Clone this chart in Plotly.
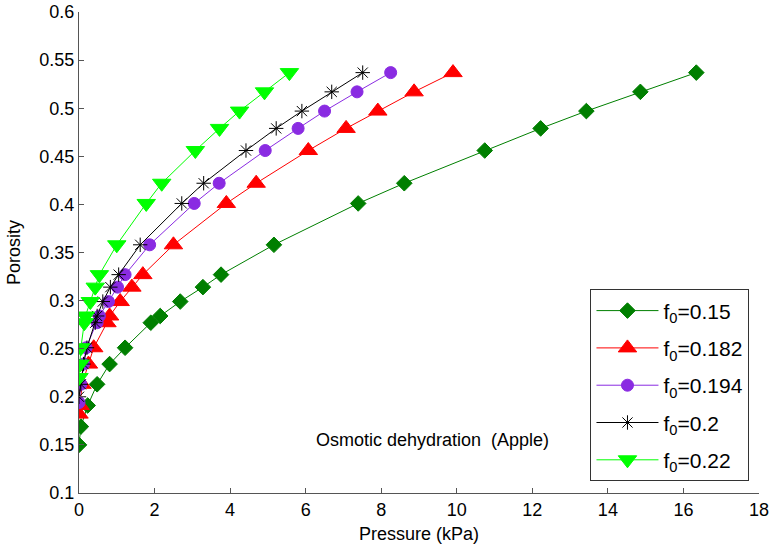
import plotly.graph_objects as go

# f0 = 0.15
p_015 = [0.0, 0.05, 0.23, 0.48, 0.81, 1.22, 1.90, 2.15, 2.68, 3.28, 3.76, 5.16, 7.39, 8.61, 10.74, 12.22, 13.43, 14.86, 16.34]
phi_015 = [0.150, 0.169, 0.191, 0.213, 0.234, 0.251, 0.277, 0.284, 0.299, 0.314, 0.327, 0.358, 0.401, 0.422, 0.456, 0.479, 0.497, 0.517, 0.537]
# f0 = 0.182
p_0182 = [0.0, 0.03, 0.08, 0.25, 0.39, 0.74, 0.81, 1.09, 1.40, 1.69, 2.50, 3.90, 4.69, 6.07, 7.07, 7.91, 8.87, 9.90]
phi_0182 = [0.182, 0.191, 0.213, 0.234, 0.251, 0.277, 0.284, 0.299, 0.314, 0.327, 0.358, 0.401, 0.422, 0.456, 0.479, 0.497, 0.517, 0.537]
# f0 = 0.194
p_0194 = [0.0, 0.05, 0.12, 0.19, 0.48, 0.54, 0.78, 1.02, 1.22, 1.87, 3.05, 3.71, 4.93, 5.80, 6.50, 7.36, 8.25]
phi_0194 = [0.194, 0.213, 0.234, 0.251, 0.277, 0.284, 0.299, 0.314, 0.327, 0.358, 0.401, 0.422, 0.456, 0.479, 0.497, 0.517, 0.537]
# f0 = 0.2
p_02 = [0.0, 0.05, 0.12, 0.21, 0.43, 0.48, 0.63, 0.83, 1.05, 1.62, 2.72, 3.30, 4.42, 5.22, 5.90, 6.69, 7.51]
phi_02 = [0.200, 0.213, 0.234, 0.251, 0.277, 0.284, 0.299, 0.314, 0.327, 0.358, 0.401, 0.422, 0.456, 0.479, 0.497, 0.517, 0.537]
# f0 = 0.22
p_022 = [0.0, 0.03, 0.05, 0.14, 0.17, 0.30, 0.43, 0.54, 1.00, 1.78, 2.19, 3.08, 3.72, 4.25, 4.91, 5.57]
phi_022 = [0.220, 0.234, 0.251, 0.277, 0.284, 0.299, 0.314, 0.327, 0.358, 0.401, 0.422, 0.456, 0.479, 0.497, 0.517, 0.537]

x_ticks = [0, 2, 4, 6, 8, 10, 12, 14, 16, 18]
y_ticks = [0.1, 0.15, 0.2, 0.25, 0.3, 0.35, 0.4, 0.45, 0.5, 0.55, 0.6]

FONT = "Liberation Sans, Arial, sans-serif"

series = [
    ("f<sub>0</sub>=0.15", p_015, phi_015, "#007f00", "diamond", 12),
    ("f<sub>0</sub>=0.182", p_0182, phi_0182, "#ff0000", "triangle-up", 16),
    ("f<sub>0</sub>=0.194", p_0194, phi_0194, "#8a2be2", "circle", 12),
    ("f<sub>0</sub>=0.2", p_02, phi_02, "#000000", "asterisk-open", 12),
    ("f<sub>0</sub>=0.22", p_022, phi_022, "#00ff00", "triangle-down", 16),
]

fig = go.Figure()
for i, (name, x, y, c, sym, sz) in enumerate(series):
    fig.add_trace(go.Scatter(
        x=x, y=y, name=name, mode="lines+markers", legendgroup=f"g{i}",
        line=dict(color=c, width=1),
        marker=dict(symbol=sym, size=sz, color=c, line=dict(color=c, width=1)),
    ))

fig.add_annotation(x=12.5, y=0.155, xref="x", yref="y", xanchor="right",
                   text="Osmotic dehydration  (Apple)",
                   showarrow=False, font=dict(family=FONT, size=18, color="black"))

axis_common = dict(showline=True, linecolor="#555555", linewidth=1, ticks="inside", ticklen=5,
                   tickcolor="#555555", showgrid=False, zeroline=False, mirror=False,
                   tickfont=dict(family=FONT, size=18, color="black"), automargin=False)

fig.update_xaxes(range=[0, 18], tickvals=x_ticks, ticktext=[str(v) for v in x_ticks],
                 title=dict(text="Pressure (kPa)", font=dict(family=FONT, size=18, color="black"), standoff=8),
                 **axis_common)
fig.update_yaxes(range=[0.1, 0.6], tickvals=y_ticks, ticktext=[f"{v:g}" for v in y_ticks],
                 title=dict(text="Porosity", font=dict(family=FONT, size=18, color="black"), standoff=14),
                 **axis_common)

fig.update_layout(
    width=773, height=549,
    margin=dict(l=79, r=14, t=12, b=56),
    plot_bgcolor="white", paper_bgcolor="white",
    font=dict(family=FONT, size=18, color="black"),
    legend=dict(x=0.986, y=0.024, xanchor="right", yanchor="bottom",
                bordercolor="#333333", borderwidth=1, bgcolor="white",
                font=dict(family=FONT, size=21, color="black"), tracegroupgap=7,
                itemwidth=62),
    showlegend=True,
)

fig.write_html("out.html", config={"displayModeBar": False},
               post_script="document.body.style.margin='0';document.body.style.overflow='hidden';")
